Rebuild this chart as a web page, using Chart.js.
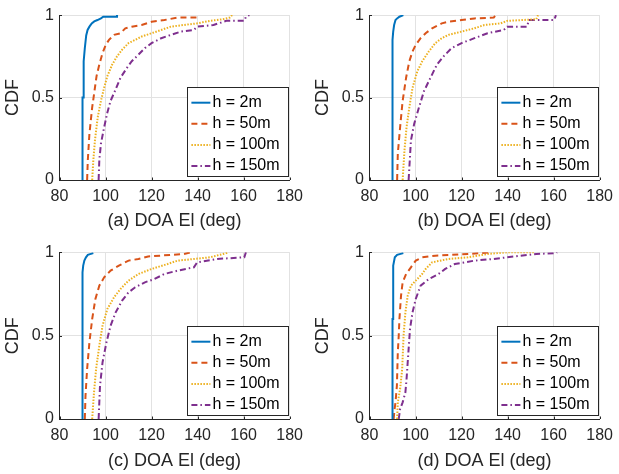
<!DOCTYPE html>
<html>
<head>
<meta charset="utf-8">
<script src="https://cdn.jsdelivr.net/npm/chart.js@4.4.1/dist/chart.umd.min.js"></script>
<style>
  html, body { margin: 0; padding: 0; background: #fff; }
  body { width: 619px; height: 474px; position: relative; overflow: hidden; }
  canvas { position: absolute; }
</style>
</head>
<body>
<canvas id="cA" width="310" height="235" style="left:0;top:0"></canvas>
<canvas id="cB" width="310" height="235" style="left:310px;top:0"></canvas>
<canvas id="cC" width="310" height="239" style="left:0;top:235px"></canvas>
<canvas id="cD" width="310" height="239" style="left:310px;top:235px"></canvas>
<script>
// series names and styles (MATLAB default palette)
var seriesLabels = ['h = 2m', 'h = 50m', 'h = 100m', 'h = 150m'];
var seriesColors = ['#0072BD', '#D95319', '#EDB120', '#7E2F8E'];
var seriesDash = [[], [6, 4], [1.5, 1.5], [6, 3, 1.5, 3]];

var xTicks = [80, 100, 120, 140, 160, 180];
var yTicks = [0, 0.5, 1];

var panelTitles = ['(a) DOA El (deg)', '(b) DOA El (deg)', '(c) DOA El (deg)', '(d) DOA El (deg)'];

// empirical CDFs, [elevation deg, cdf] corner points per height
var cdfA = [
  [[90, 0], [90, 0.5], [90.5, 0.5], [90.5, 0.72], [91, 0.8], [91.6, 0.877], [92.2, 0.91], [93, 0.93], [94, 0.95], [95.1, 0.962], [96.5, 0.97], [98, 0.98], [99, 0.99], [105, 0.99], [105, 1]],
  [[92, 0], [92.3, 0.12], [93, 0.28], [94.2, 0.44], [95.2, 0.54], [96.1, 0.63], [97.3, 0.7], [98.7, 0.77], [100.1, 0.82], [101.5, 0.85], [103.7, 0.88], [106.5, 0.89], [108.6, 0.92], [111.4, 0.93], [115.7, 0.94], [120, 0.96], [125.6, 0.97], [131.3, 0.985], [139.8, 0.985], [139.8, 1]],
  [[94.2, 0], [94.7, 0.12], [95.4, 0.24], [96.6, 0.38], [98, 0.48], [99.4, 0.56], [100.8, 0.63], [102.9, 0.7], [105, 0.75], [107.2, 0.79], [110, 0.83], [112.9, 0.85], [115.7, 0.87], [120, 0.89], [124.2, 0.91], [128.4, 0.93], [134, 0.94], [139.8, 0.95], [145.4, 0.965], [151, 0.975], [154, 0.985], [155, 1]],
  [[97, 0], [97.3, 0.12], [98, 0.22], [99.4, 0.32], [100.8, 0.41], [102.2, 0.48], [104.4, 0.55], [106.5, 0.62], [109.3, 0.68], [111.4, 0.72], [114.3, 0.76], [117.1, 0.8], [120, 0.83], [124.2, 0.86], [128.4, 0.88], [132.7, 0.9], [138.4, 0.91], [139.8, 0.93], [146.9, 0.94], [152.5, 0.965], [160.3, 0.965], [161, 0.99], [162.5, 1]]
];
var cdfB = [
  [[90, 0], [90, 0.85], [90.3, 0.9], [90.7, 0.94], [91.3, 0.97], [92, 0.98], [93, 0.99], [94.7, 1]],
  [[92, 0], [92.3, 0.16], [93.3, 0.32], [94.4, 0.48], [95.9, 0.62], [97.3, 0.72], [98.7, 0.78], [100.1, 0.82], [102.2, 0.86], [104.4, 0.89], [107.2, 0.92], [111.4, 0.95], [114.3, 0.96], [120, 0.97], [125.6, 0.98], [134, 0.985], [134.8, 1]],
  [[94.4, 0], [95.2, 0.18], [96.1, 0.32], [97.3, 0.44], [98.7, 0.56], [100.8, 0.66], [102.9, 0.72], [105.8, 0.78], [108.6, 0.83], [111.4, 0.86], [114.3, 0.88], [120, 0.9], [125.6, 0.92], [129.9, 0.94], [137, 0.95], [139.8, 0.965], [152.5, 0.975], [153.2, 1]],
  [[97, 0], [98, 0.24], [99.4, 0.34], [101.5, 0.44], [103.7, 0.54], [106.5, 0.62], [109.3, 0.7], [112.2, 0.75], [115.7, 0.8], [120, 0.83], [125.6, 0.86], [131.3, 0.89], [138.4, 0.91], [139.8, 0.93], [148.5, 0.93], [149.2, 0.97], [160.3, 0.97], [161, 1]]
];
var cdfC = [
  [[90, 0], [90, 0.88], [90.3, 0.92], [90.8, 0.95], [91.5, 0.97], [92.3, 0.985], [94.7, 0.995]],
  [[91, 0], [91.3, 0.14], [92, 0.3], [93, 0.46], [94.2, 0.6], [95.6, 0.72], [97.3, 0.8], [99.4, 0.85], [102.2, 0.89], [105.8, 0.92], [110, 0.95], [114.3, 0.96], [118.5, 0.975], [134, 0.99], [137, 1]],
  [[94.2, 0], [95, 0.16], [95.9, 0.3], [97.3, 0.44], [98.7, 0.56], [100.8, 0.66], [103.7, 0.73], [106.5, 0.78], [110, 0.83], [114.3, 0.87], [120, 0.9], [127, 0.93], [131.3, 0.95], [138.4, 0.96], [145.4, 0.97], [152.5, 0.995], [153, 1]],
  [[97, 0], [97.6, 0.2], [98.7, 0.34], [100.4, 0.46], [102.2, 0.56], [104.4, 0.64], [107.2, 0.71], [110, 0.76], [112.9, 0.79], [117.1, 0.82], [121.3, 0.84], [125.6, 0.87], [131.3, 0.89], [138.4, 0.91], [139.8, 0.94], [148.5, 0.96], [160.3, 0.97], [161, 1]]
];
var cdfD = [
  [[90, 0], [90, 0.6], [90.3, 0.6], [90.3, 0.92], [91, 0.97], [92, 0.985], [94.7, 0.995]],
  [[90.5, 0], [90.9, 0.06], [91.3, 0.1], [91.9, 0.2], [92.3, 0.4], [92.7, 0.5], [93, 0.6], [93.7, 0.74], [94.4, 0.82], [95.9, 0.87], [98, 0.91], [100.1, 0.95], [102.9, 0.97], [108.6, 0.98], [122.7, 0.99], [133.3, 1]],
  [[92, 0], [92.3, 0.1], [93.3, 0.18], [94.2, 0.3], [94.8, 0.5], [95.6, 0.64], [96.6, 0.74], [98, 0.8], [100.1, 0.83], [102.9, 0.87], [104.4, 0.9], [107.2, 0.94], [114.3, 0.96], [122.7, 0.97], [131.3, 0.99], [139.8, 1], [152, 1]],
  [[92.7, 0], [93.3, 0.06], [94.4, 0.1], [95.6, 0.16], [96.1, 0.24], [96.9, 0.4], [97.6, 0.54], [98.7, 0.64], [100.1, 0.72], [102.2, 0.8], [105.8, 0.84], [110, 0.87], [112.9, 0.9], [117.1, 0.93], [125.6, 0.95], [134, 0.96], [139.8, 0.97], [152.5, 0.99], [161, 0.995], [161.5, 1]]
];

Chart.defaults.font.family = '"Liberation Sans", Arial, Helvetica, sans-serif';
Chart.defaults.color = '#262626';

// short inward tick marks on the left and bottom axes
var innerTicks = {
  id: 'innerTicks',
  afterDatasetsDraw: function (chart) {
    var ctx = chart.ctx, a = chart.chartArea;
    var sx = chart.scales.x, sy = chart.scales.y;
    ctx.save();
    ctx.strokeStyle = '#262626';
    ctx.lineWidth = 1;
    ctx.beginPath();
    sx.ticks.forEach(function (t) {
      var px = Math.round(sx.getPixelForValue(t.value)) + 0.5;
      ctx.moveTo(px, a.bottom);
      ctx.lineTo(px, a.bottom - 2.5);
    });
    sy.ticks.forEach(function (t) {
      var py = Math.round(sy.getPixelForValue(t.value)) + 0.5;
      ctx.moveTo(a.left, py);
      ctx.lineTo(a.left + 2.5, py);
    });
    ctx.stroke();
    ctx.restore();
  }
};

// boxed legend in the lower right corner of the plot
var boxLegend = {
  id: 'boxLegend',
  afterDraw: function (chart) {
    var ctx = chart.ctx, a = chart.chartArea;
    var w = 101, h = 89;
    var left = Math.round(a.right - 1.7 - w), top = Math.round(a.bottom - 4.5 - h);
    ctx.save();
    ctx.fillStyle = '#fff';
    ctx.fillRect(left, top, w, h);
    ctx.strokeStyle = '#262626';
    ctx.lineWidth = 1;
    ctx.strokeRect(left + 0.5, top + 0.5, w, h);
    ctx.font = '16px "Liberation Sans", Arial, sans-serif';
    ctx.textBaseline = 'middle';
    chart.data.datasets.forEach(function (ds, i) {
      var y = top + 15.7 + i * 21.1;
      ctx.strokeStyle = ds.borderColor;
      ctx.lineWidth = ds.borderWidth;
      ctx.setLineDash(ds.borderDash);
      ctx.beginPath();
      ctx.moveTo(left + 4.4, y);
      ctx.lineTo(left + 23.4, y);
      ctx.stroke();
      ctx.setLineDash([]);
      ctx.fillStyle = '#000';
      ctx.fillText(ds.label, left + 25.4, y);
    });
    ctx.restore();
  }
};

function makePanel(id, curves, xTitle, padTop, titlePad) {
  var datasets = curves.map(function (pts, i) {
    return {
      label: seriesLabels[i],
      data: pts.map(function (p) { return {x: p[0], y: p[1]}; }),
      borderColor: seriesColors[i],
      borderWidth: 2,
      borderDash: seriesDash[i],
      pointRadius: 0,
      tension: 0,
      fill: false
    };
  });

  return new Chart(document.getElementById(id), {
    type: 'line',
    data: {datasets: datasets},
    options: {
      responsive: false,
      animation: false,
      events: [],
      layout: {padding: {top: padTop, right: 15.3, bottom: 0, left: 0}},
      plugins: {legend: {display: false}, tooltip: {enabled: false}},
      scales: {
        x: {
          type: 'linear',
          min: 80,
          max: 180,
          afterBuildTicks: function (s) { s.ticks = xTicks.map(function (v) { return {value: v}; }); },
          afterFit: function (s) { s.height = 55; },
          grid: {color: '#e2e2e2', drawTicks: false},
          border: {color: '#262626', width: 1},
          ticks: {padding: 7, font: {size: 16}, callback: function (v) { return String(v); }},
          title: {display: true, text: xTitle, font: {size: 18}, padding: {top: 0, bottom: titlePad}}
        },
        y: {
          type: 'linear',
          min: 0,
          max: 1,
          afterBuildTicks: function (s) { s.ticks = yTicks.map(function (v) { return {value: v}; }); },
          afterFit: function (s) { s.width = 59.5; },
          grid: {color: '#e2e2e2', drawTicks: false},
          border: {color: '#262626', width: 1},
          ticks: {padding: 5.5, font: {size: 16}, callback: function (v) { return String(v); }},
          title: {display: true, text: 'CDF', font: {size: 18}, padding: {top: 2.5, bottom: 0}}
        }
      }
    },
    plugins: [innerTicks, boxLegend]
  });
}

makePanel('cA', cdfA, panelTitles[0], 12.7, 3.5);
makePanel('cB', cdfB, panelTitles[1], 12.7, 3.5);
makePanel('cC', cdfC, panelTitles[2], 17.3, 2.5);
makePanel('cD', cdfD, panelTitles[3], 17.3, 2.5);
</script>
</body>
</html>
